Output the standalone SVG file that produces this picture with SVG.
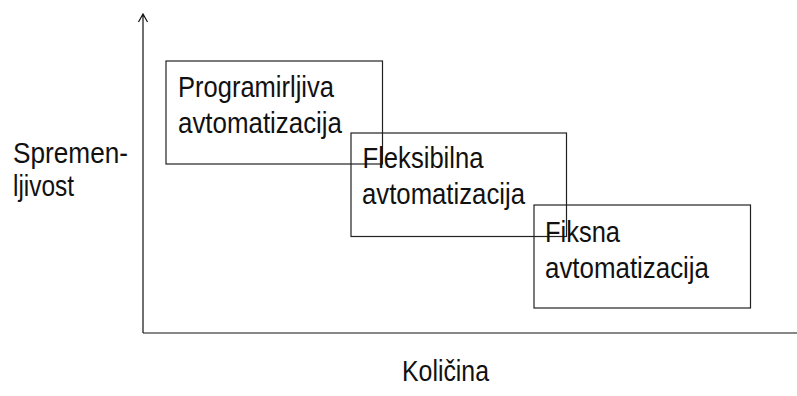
<svg xmlns="http://www.w3.org/2000/svg" width="797" height="396" viewBox="0 0 797 396">
  <style>
    .box { fill: none; stroke: #222; stroke-width: 1.2; }
    .axis { fill: none; stroke: #111; stroke-width: 1.2; }
    .lbl { font-family: "Liberation Sans", Arial, sans-serif; font-size: 30px; fill: #111; }
  </style>
  <rect width="797" height="396" fill="#fff"/>

  <!-- axes -->
  <g id="axes">
    <path class="axis" d="M143,333 V14 M138.5,22 L143,14 L147.5,22"/>
    <path class="axis" d="M143,333 H797"/>
  </g>

  <!-- axis titles -->
  <g id="y-title">
    <text class="lbl" x="13" y="163" textLength="115" lengthAdjust="spacingAndGlyphs">Spremen-</text>
    <text class="lbl" x="13" y="196" textLength="61" lengthAdjust="spacingAndGlyphs">ljivost</text>
  </g>
  <g id="x-title">
    <text class="lbl" x="402" y="381" textLength="87" lengthAdjust="spacingAndGlyphs">Količina</text>
  </g>

  <!-- automation types -->
  <g id="programirljiva">
    <rect class="box" x="166" y="61" width="216.5" height="103"/>
    <text class="lbl" x="178" y="97" textLength="156" lengthAdjust="spacingAndGlyphs">Programirljiva</text>
    <text class="lbl" x="178" y="132.5" textLength="164" lengthAdjust="spacingAndGlyphs">avtomatizacija</text>
  </g>
  <g id="fleksibilna">
    <rect class="box" x="351" y="133" width="215.5" height="103.5"/>
    <text class="lbl" x="362.5" y="168" textLength="121" lengthAdjust="spacingAndGlyphs">Fleksibilna</text>
    <text class="lbl" x="362" y="203.5" textLength="163" lengthAdjust="spacingAndGlyphs">avtomatizacija</text>
  </g>
  <g id="fiksna">
    <rect class="box" x="534" y="205" width="216.5" height="103"/>
    <text class="lbl" x="545" y="242" textLength="75" lengthAdjust="spacingAndGlyphs">Fiksna</text>
    <text class="lbl" x="545" y="277.5" textLength="164" lengthAdjust="spacingAndGlyphs">avtomatizacija</text>
  </g>
</svg>
